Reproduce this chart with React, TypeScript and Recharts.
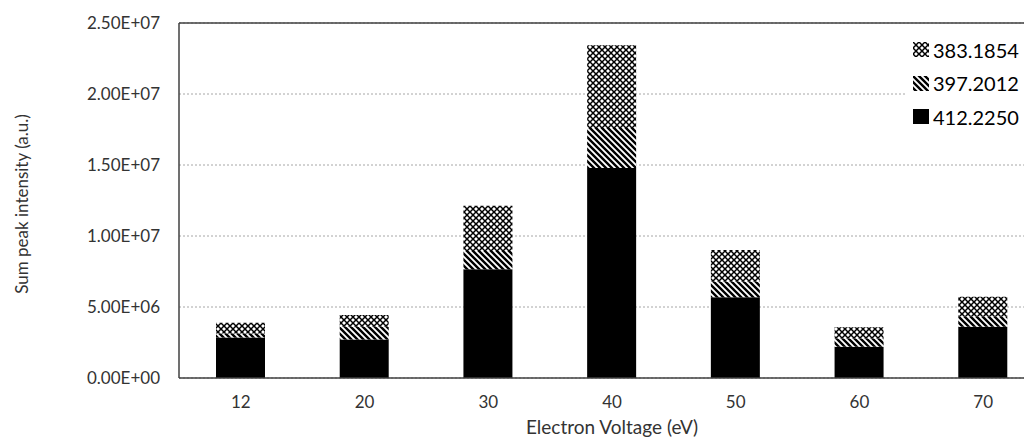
import React from "react";
import {
  BarChart,
  Bar,
  XAxis,
  YAxis,
  CartesianGrid,
  ReferenceLine,
} from "recharts";

const voltages = ["12", "20", "30", "40", "50", "60", "70"];
const ion412 = [2.86e6, 2.72e6, 7.65e6, 1.478e7, 5.68e6, 2.2e6, 3.61e6];
const ion397 = [0.28e6, 0.89e6, 1.29e6, 2.82e6, 1.1e6, 0.59e6, 0.7e6];
const ion383 = [0.75e6, 0.82e6, 3.19e6, 5.83e6, 2.23e6, 0.78e6, 1.41e6];
const yTicks = [0, 5e6, 1e7, 1.5e7, 2e7, 2.5e7];

const series = [
  { key: "m383", name: "383.1854", fill: "url(#cross)" },
  { key: "m397", name: "397.2012", fill: "url(#diag)" },
  { key: "m412", name: "412.2250", fill: "#000000" },
];

const data = voltages.map((v, i) => ({
  voltage: v,
  m412: ion412[i],
  m397: ion397[i],
  m383: ion383[i],
}));

const FONT = "Lato, 'Open Sans', sans-serif";
const TXT = "#333333";

function sci(v: number) {
  if (v === 0) return "0.00E+00";
  const e = Math.floor(Math.log10(v));
  const m = v / Math.pow(10, e);
  const es = (e < 0 ? "-" : "+") + String(Math.abs(e)).padStart(2, "0");
  return m.toFixed(2) + "E" + es;
}

function Swatch({ fill }: { fill: string }) {
  return (
    <svg width={16} height={15} style={{ marginRight: 4 }}>
      <rect x={0} y={0} width={16} height={15} fill={fill} />
    </svg>
  );
}

export default function App() {
  return (
    <div style={{ position: "relative", width: 1024, height: 430, overflow: "hidden" }}>
      <svg width={0} height={0} style={{ position: "absolute" }}>
        <defs>
          <pattern id="cross" width={6} height={6} patternUnits="userSpaceOnUse">
            <rect width={6} height={6} fill="#fff" />
            <path d="M0,0 L6,6 M6,0 L0,6" stroke="#000" strokeWidth={1.5} />
          </pattern>
          <pattern id="diag" width={6} height={6} patternUnits="userSpaceOnUse">
            <rect width={6} height={6} fill="#fff" />
            <path d="M-1,5 l2,2 M0,0 l6,6 M5,-1 l2,2" stroke="#000" strokeWidth={2.4} />
          </pattern>
        </defs>
      </svg>
      <BarChart
        width={1050}
        height={430}
        data={data}
        margin={{ top: 15, right: 13, left: 0, bottom: 0 }}
      >
        <CartesianGrid
          vertical={false}
          stroke="#a6a6a6"
          strokeDasharray="2 2"
        />
        <XAxis
          dataKey="voltage"
          height={60}
          tickLine={false}
          tickMargin={12}
          axisLine={{ stroke: "#404040", strokeWidth: 1.5 }}
          tick={{ fill: TXT, fontSize: 17, fontFamily: FONT }}
          label={{
            content: () => (
              <text x={604} y={426} textAnchor="middle" fill={TXT} fontSize={19} fontFamily={FONT}>
                Electron Voltage (eV)
              </text>
            ),
          }}
        />
        <YAxis
          width={171}
          domain={[0, 2.5e7]}
          ticks={yTicks}
          tickFormatter={sci}
          tickLine={false}
          tickMargin={13}
          axisLine={{ stroke: "#404040", strokeWidth: 1.5 }}
          tick={{ fill: TXT, fontSize: 17, fontFamily: FONT }}
          label={{
            content: () => (
              <text
                x={13}
                y={196}
                transform="rotate(-90 13 196)"
                textAnchor="middle"
                dominantBaseline="central"
                fill={TXT}
                fontSize={17}
                fontFamily={FONT}
              >
                Sum peak intensity (a.u.)
              </text>
            ),
          }}
        />
        <ReferenceLine y={2.5e7} stroke="#404040" strokeWidth={1.5} />
        <Bar dataKey="m412" stackId="a" fill="#000" barSize={49} isAnimationActive={false} />
        <Bar dataKey="m397" stackId="a" fill="url(#diag)" barSize={49} isAnimationActive={false} />
        <Bar dataKey="m383" stackId="a" fill="url(#cross)" barSize={49} isAnimationActive={false} />
      </BarChart>
      <div
        style={{
          position: "absolute",
          left: 898,
          top: 25,
          width: 126,
          background: "#fff",
          fontFamily: FONT,
          fontSize: 20,
          color: "#000",
          paddingLeft: 7,
        }}
      >
        {series.map((s) => (
          <div key={s.key} style={{ display: "flex", alignItems: "center", height: 33.5 }}>
            <Swatch fill={s.fill} />
            <span>{s.name}</span>
          </div>
        ))}
      </div>
    </div>
  );
}
